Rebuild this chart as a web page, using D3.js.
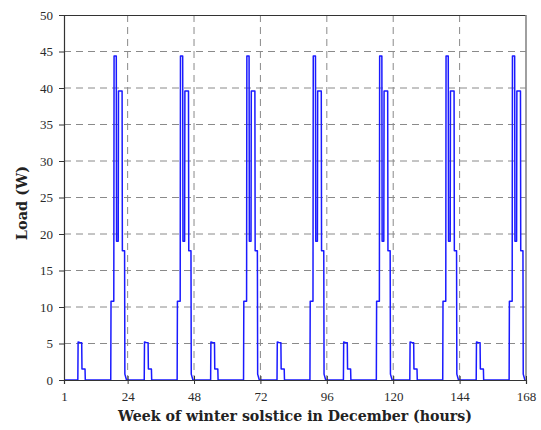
<!DOCTYPE html>
<html>
<head>
<meta charset="utf-8">
<script src="https://cdn.jsdelivr.net/npm/d3@7"></script>
<style>
  html, body { margin: 0; padding: 0; background: #fff; }
  svg { display: block; }
</style>
</head>
<body>
<svg id="chart" width="541" height="430"></svg>
<script>
// Hourly load of the household over the winter-solstice week (hour of week, watts).
// Each row holds one day's breakpoints of the stepped load profile.
const hours = [
  1,
  6.0, 6.1, 6.7, 7.4, 7.5, 8.6, 8.7, 17.9, 18.0, 19.0, 19.1, 19.9, 20.0, 20.6, 20.7, 22.0, 22.1, 22.9, 23.0, 23.6,
  30.0, 30.1, 30.7, 31.4, 31.5, 32.6, 32.7, 41.9, 42.0, 43.0, 43.1, 43.9, 44.0, 44.6, 44.7, 46.0, 46.1, 46.9, 47.0, 47.6,
  54.0, 54.1, 54.7, 55.4, 55.5, 56.6, 56.7, 65.9, 66.0, 67.0, 67.1, 67.9, 68.0, 68.6, 68.7, 70.0, 70.1, 70.9, 71.0, 71.6,
  78.0, 78.1, 78.7, 79.4, 79.5, 80.6, 80.7, 89.9, 90.0, 91.0, 91.1, 91.9, 92.0, 92.6, 92.7, 94.0, 94.1, 94.9, 95.0, 95.6,
  102.0, 102.1, 102.7, 103.4, 103.5, 104.6, 104.7, 113.9, 114.0, 115.0, 115.1, 115.9, 116.0, 116.6, 116.7, 118.0, 118.1, 118.9, 119.0, 119.6,
  126.0, 126.1, 126.7, 127.4, 127.5, 128.6, 128.7, 137.9, 138.0, 139.0, 139.1, 139.9, 140.0, 140.6, 140.7, 142.0, 142.1, 142.9, 143.0, 143.6,
  150.0, 150.1, 150.7, 151.4, 151.5, 152.6, 152.7, 161.9, 162.0, 163.0, 163.1, 163.9, 164.0, 164.6, 164.7, 166.0, 166.1, 166.9, 167.0, 167.6,
  168
];
const loads = [
  0,
  0, 5.2, 5.15, 5.1, 1.5, 1.5, 0, 0, 10.8, 10.8, 44.4, 44.4, 19.0, 19.0, 39.6, 39.6, 17.7, 17.7, 0.8, 0,
  0, 5.2, 5.15, 5.1, 1.5, 1.5, 0, 0, 10.8, 10.8, 44.4, 44.4, 19.0, 19.0, 39.6, 39.6, 17.7, 17.7, 0.8, 0,
  0, 5.2, 5.15, 5.1, 1.5, 1.5, 0, 0, 10.8, 10.8, 44.4, 44.4, 19.0, 19.0, 39.6, 39.6, 17.7, 17.7, 0.8, 0,
  0, 5.2, 5.15, 5.1, 1.5, 1.5, 0, 0, 10.8, 10.8, 44.4, 44.4, 19.0, 19.0, 39.6, 39.6, 17.7, 17.7, 0.8, 0,
  0, 5.2, 5.15, 5.1, 1.5, 1.5, 0, 0, 10.8, 10.8, 44.4, 44.4, 19.0, 19.0, 39.6, 39.6, 17.7, 17.7, 0.8, 0,
  0, 5.2, 5.15, 5.1, 1.5, 1.5, 0, 0, 10.8, 10.8, 44.4, 44.4, 19.0, 19.0, 39.6, 39.6, 17.7, 17.7, 0.8, 0,
  0, 5.2, 5.15, 5.1, 1.5, 1.5, 0, 0, 10.8, 10.8, 44.4, 44.4, 19.0, 19.0, 39.6, 39.6, 17.7, 17.7, 0.8, 0,
  0
];
const xTicks = [1, 24, 48, 72, 96, 120, 144, 168];
const yTicks = [0, 5, 10, 15, 20, 25, 30, 35, 40, 45, 50];
const xTitle = "Week of winter solstice in December (hours)";
const yTitle = "Load (W)";

const serif = "'Liberation Serif', 'DejaVu Serif', serif";
const titleFont = "'DejaVu Serif', 'Liberation Serif', serif";
const margin = { left: 64, right: 15, top: 15, bottom: 50 };
const W = 541, H = 430;
const iw = W - margin.left - margin.right;
const ih = H - margin.top - margin.bottom;

const svg = d3.select("#chart");
const g = svg.append("g").attr("transform", `translate(${margin.left},${margin.top})`);

const x = d3.scaleLinear().domain([1, 168]).range([0, iw]);
const y = d3.scaleLinear().domain([0, 50]).range([ih, 0]);

// dashed grid
g.append("g").selectAll("line")
  .data(xTicks.filter(t => t > 1 && t < 168))
  .join("line")
  .attr("x1", d => x(d)).attr("x2", d => x(d))
  .attr("y1", 0).attr("y2", ih)
  .attr("stroke", "#8a8a8a").attr("stroke-width", 1)
  .attr("stroke-dasharray", "7,5");
g.append("g").selectAll("line")
  .data(yTicks.filter(t => t > 0 && t < 50))
  .join("line")
  .attr("x1", 0).attr("x2", iw)
  .attr("y1", d => y(d)).attr("y2", d => y(d))
  .attr("stroke", "#8a8a8a").attr("stroke-width", 1)
  .attr("stroke-dasharray", "7,5");

// load curve
const pts = hours.map((h, i) => [h, loads[i]]);
g.append("path")
  .datum(pts)
  .attr("fill", "none")
  .attr("stroke", "#1a1aff")
  .attr("stroke-width", 1.5)
  .attr("stroke-linejoin", "round")
  .attr("d", d3.line().x(d => x(d[0])).y(d => y(d[1])));

// frame
g.append("line").attr("x1", 0).attr("x2", iw).attr("y1", 0.5).attr("y2", 0.5)
  .attr("stroke", "#333").attr("stroke-width", 1.2);
g.append("line").attr("x1", iw).attr("x2", iw).attr("y1", 0).attr("y2", ih)
  .attr("stroke", "#888").attr("stroke-width", 1.6);

// axes
const xAxis = d3.axisBottom(x).tickValues(xTicks).tickSize(4).tickPadding(8).tickFormat(d3.format("d"));
const gx = g.append("g").attr("transform", `translate(0,${ih})`).call(xAxis);
gx.select(".domain").attr("stroke", "#333").attr("stroke-width", 1.2);
gx.selectAll(".tick line").attr("stroke", "#333").attr("y1", -4);

const yAxis = d3.axisLeft(y).tickValues(yTicks).tickSize(5).tickPadding(6);
const gy = g.append("g").call(yAxis);
gy.select(".domain").attr("stroke", "#333").attr("stroke-width", 1.2);
gy.selectAll(".tick line").attr("stroke", "#333");

[gx, gy].forEach(a => {
  a.attr("font-family", serif).attr("font-size", 13);
  a.selectAll(".tick text")
    .attr("font-family", serif).attr("font-size", 13)
    .attr("fill", "#2a2a2a");
});

// titles
svg.append("text")
  .attr("x", 295).attr("y", 421)
  .attr("text-anchor", "middle")
  .attr("font-family", titleFont)
  .attr("font-weight", "bold").attr("font-size", 14.5).attr("fill", "#222")
  .attr("textLength", 354).attr("lengthAdjust", "spacingAndGlyphs")
  .text(xTitle);
svg.append("text")
  .attr("transform", `translate(27,${203}) rotate(-90)`)
  .attr("text-anchor", "middle")
  .attr("font-family", titleFont)
  .attr("font-weight", "bold").attr("font-size", 14.5).attr("fill", "#222")
  .text(yTitle);
</script>
</body>
</html>
